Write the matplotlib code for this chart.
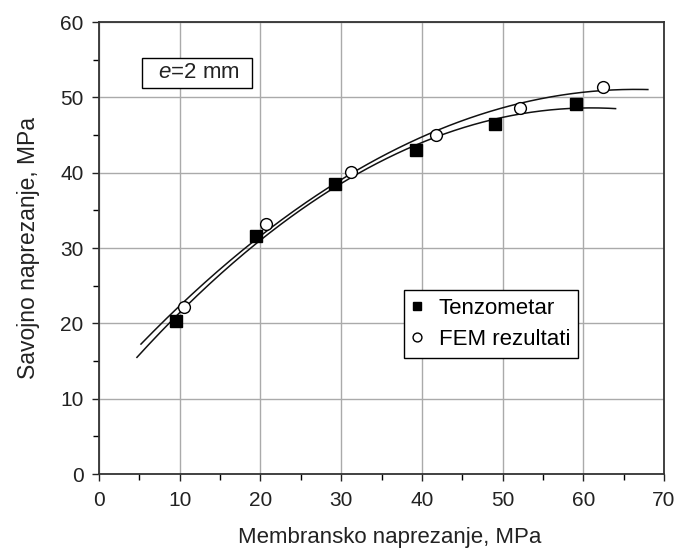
import numpy as np
import matplotlib
matplotlib.use("Agg")
import matplotlib.pyplot as plt

plt.rcParams['font.family'] = ['Liberation Sans', 'DejaVu Sans']
plt.rcParams['mathtext.fontset'] = 'custom'
plt.rcParams['mathtext.it'] = 'Liberation Sans:italic'
plt.rcParams['mathtext.rm'] = 'Liberation Sans'

# Data
tenz_x = [9.6, 19.4, 29.3, 39.3, 49.1, 59.1]
tenz_y = [20.3, 31.6, 38.5, 43.0, 46.5, 49.1]
fem_x = [10.5, 20.7, 31.2, 41.7, 52.1, 62.5]
fem_y = [22.2, 33.2, 40.1, 45.0, 48.6, 51.4]
tenz_fit_range = [4.7, 64.0]
fem_fit_range = [5.2, 68.0]

x_ticks = [0, 10, 20, 30, 40, 50, 60, 70]
y_ticks = [0, 10, 20, 30, 40, 50, 60]

fig = plt.figure(figsize=(6.78, 5.53), dpi=100)
ax = fig.add_axes([99 / 678, 1 - 474 / 553, 565 / 678, 452 / 553])

ct = np.polyfit(tenz_x, tenz_y, 2)
cf = np.polyfit(fem_x, fem_y, 2)
xt = np.linspace(*tenz_fit_range, 200)
xf = np.linspace(*fem_fit_range, 200)
ax.plot(xt, np.polyval(ct, xt), color='#111111', lw=1.1, zorder=3)
ax.plot(xf, np.polyval(cf, xf), color='#111111', lw=1.1, zorder=3)

ax.plot(tenz_x, tenz_y, ls='none', marker='s', ms=8, mfc='black', mec='black',
        label='Tenzometar', zorder=4)
ax.plot(fem_x, fem_y, ls='none', marker='o', ms=8.5, mfc='white', mec='black',
        mew=1.0, label='FEM rezultati', zorder=4)

ax.set_xlim(0, 70)
ax.set_ylim(0, 60)
ax.set_xticks(x_ticks)
ax.set_yticks(y_ticks)
ax.set_xticks(np.arange(5, 70, 10), minor=True)
ax.set_yticks(np.arange(5, 60, 10), minor=True)
ax.tick_params(axis='both', which='major', direction='out', length=5, width=1,
               labelsize=15, colors='#222222', top=False, right=False)
ax.tick_params(axis='both', which='minor', direction='out', length=4, width=1,
               top=False, right=False)
ax.tick_params(axis='x', pad=7)
ax.tick_params(axis='y', pad=6)
ax.grid(True, which='major', color='#aaaaaa', lw=1.0, zorder=0)
ax.set_axisbelow(True)
for s in ax.spines.values():
    s.set_linewidth(1.3)
    s.set_color('#333333')

ax.set_xlabel('Membransko naprezanje, MPa', fontsize=16, color='#222222')
ax.set_ylabel('Savojno naprezanje, MPa', fontsize=16.5, labelpad=15, color='#222222')
ax.xaxis.set_label_coords((390 - 99) / 565, -(527 - 474) / 452)

ax.text((197 - 99) / 565, (474 - 73) / 452, r'  $e$=2 mm  ', transform=ax.transAxes,
        fontsize=16, ha='center', va='center', color='#222222',
        bbox=dict(boxstyle='square,pad=0.2', fc='white', ec='black', lw=1.0))

leg = ax.legend(loc='center', bbox_to_anchor=((491 - 99) / 565, (474 - 324) / 452),
                fontsize=16, frameon=True, fancybox=False, edgecolor='black',
                framealpha=1, handlelength=0.5, handletextpad=0.7, borderpad=0.35,
                borderaxespad=0, labelspacing=0.45, markerscale=0.75)
leg.get_frame().set_linewidth(1.0)

fig.savefig('out.png', dpi=100)
